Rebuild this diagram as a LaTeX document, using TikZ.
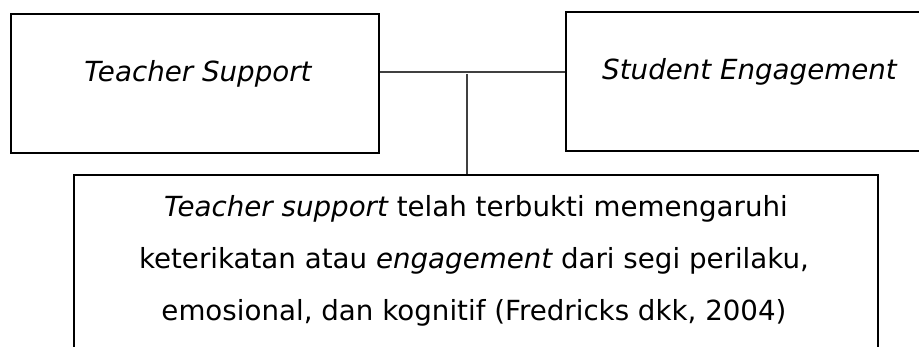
\documentclass[tikz,border=0pt]{standalone}
\usepackage{fontspec}
\setmainfont{DejaVu Sans}
\begin{document}
\begin{tikzpicture}[x=1pt,y=-1pt,
  box/.style={draw=black,line width=2pt,fill=none},
  conn/.style={draw=black!75,line width=1.2pt},
  lbl/.style={anchor=base,inner sep=0pt,font=\fontsize{27.7}{33}\selectfont}]
\useasboundingbox (0,0) rectangle (919,346);
\clip (0,0) rectangle (919,346);
\fill[white] (0,0) rectangle (919,346);
% boxes
\node[box,anchor=north west,minimum width=368pt,minimum height=139pt,inner sep=0pt] (ts) at (10,13) {};
\node[box,anchor=north west,minimum width=369pt,minimum height=139pt,inner sep=0pt] (se) at (565,11) {};
\node[box,anchor=north west,minimum width=804pt,minimum height=190pt,inner sep=0pt] (ex) at (73,174) {};
% texts
\node[lbl] (tst) at (198,81) {\itshape Teacher Support};
\node[lbl] (set) at (749.5,79) {\itshape Student Engagement};
\node[lbl] (l1) at (476,216) {\itshape Teacher support\upshape\ telah terbukti memengaruhi};
\node[lbl] (l2) at (474,268) {keterikatan atau \itshape engagement\upshape\ dari segi perilaku,};
\node[lbl] (l3) at (474,320) {emosional, dan kognitif (Fredricks dkk, 2004)};
% connectors
\coordinate (j) at (467,72);
\coordinate (j2) at (467,74);
\draw[conn] (ts.east |- j) -- (se.west |- j);
\draw[conn] (j2) -- (j2 |- ex.north);
\end{tikzpicture}
\end{document}
